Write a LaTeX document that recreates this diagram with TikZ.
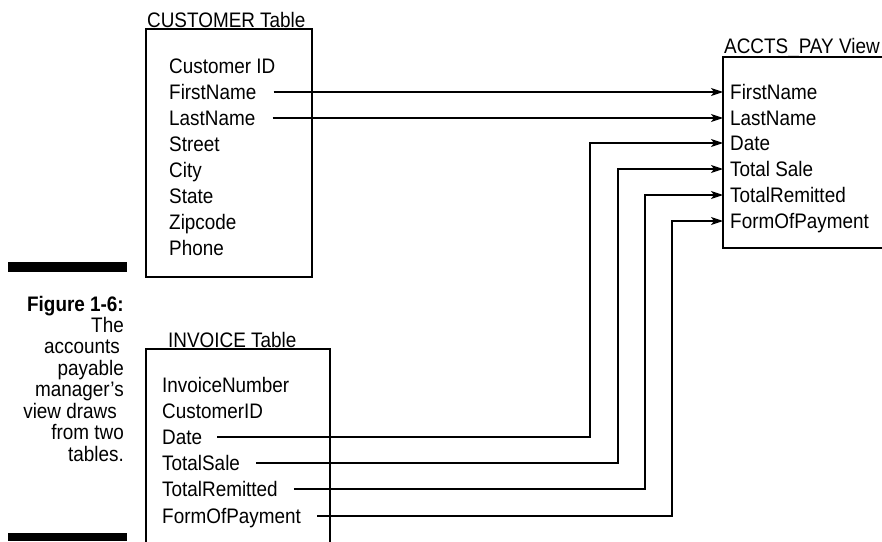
\documentclass[tikz,border=0pt]{standalone}
\usepackage{fontspec}
\setmainfont{Liberation Sans}
\newfontfamily\narrowfont[FakeStretch=0.9]{Liberation Sans}
\usetikzlibrary{arrows.meta}
\begin{document}
\begin{tikzpicture}[x=1pt,y=-1pt,
  every node/.style={font=\narrowfont\fontsize{21}{24}\selectfont},
  item/.style={inner sep=0pt, anchor=west, text height=15pt, text depth=0pt},
  vitem/.style={inner ysep=0pt, inner xsep=7pt, anchor=west, text height=15pt, text depth=0pt},
  ttl/.style={inner sep=0pt, anchor=base west},
  captext/.style={inner sep=0pt, anchor=base east},
  tablebox/.style={draw, line width=1.2pt},
  arr/.style={line width=1.2pt, -{Stealth[length=12pt,width=8pt,inset=3pt]}}
]
\useasboundingbox (0,0) rectangle (882,541);

% caption bars
\fill (8,262) rectangle (127,272);
\fill (8,533) rectangle (127,541);

% caption
\node[captext,font=\narrowfont\fontsize{21}{24}\selectfont\bfseries] (c0) at (124,311) {Figure 1-6:};
\node[captext] (c1) at (124,332) {The};
\node[captext] (c2) at (120,353.5) {accounts};
\node[captext] (c3) at (124,375) {payable};
\node[captext] (c4) at (124,396.5) {manager’s};
\node[captext] (c5) at (117,418) {view draws};
\node[captext] (c6) at (124,439.5) {from two};
\node[captext] (c7) at (124,461) {tables.};

% CUSTOMER table
\node[ttl] (custT) at (147,27) {CUSTOMER Table};
\draw[tablebox] (146,29) rectangle (312,277);
\node[item] (cID) at (169,66) {Customer ID};
\node[item] (cFirst) at (169,92) {FirstName};
\node[item] (cLast) at (169,118) {LastName};
\node[item] (cStreet) at (169,144) {Street};
\node[item] (cCity) at (169,170) {City};
\node[item] (cState) at (169,196) {State};
\node[item] (cZip) at (169,222) {Zipcode};
\node[item] (cPhone) at (169,248) {Phone};

% INVOICE table
\node[ttl] (invT) at (168,347) {INVOICE Table};
\draw[tablebox] (146,560) -- (146,349) -- (330,349) -- (330,560);
\node[item] (iNum) at (162,385) {InvoiceNumber};
\node[item] (iCust) at (162,411) {CustomerID};
\node[item] (iDate) at (162,437) {Date};
\node[item] (iSale) at (162,463) {TotalSale};
\node[item] (iRem) at (162,489) {TotalRemitted};
\node[item] (iForm) at (162,516) {FormOfPayment};

% ACCTS_PAY view
\node[ttl] (viewT) at (724,53) {ACCTS\_PAY View};
\draw[tablebox] (900,57) -- (723,57) -- (723,248) -- (900,248);
\node[vitem] (vFirst) at (723,92) {FirstName};
\node[vitem] (vLast) at (723,118) {LastName};
\node[vitem] (vDate) at (723,143) {Date};
\node[vitem] (vSale) at (723,169) {Total Sale};
\node[vitem] (vRem) at (723,195) {TotalRemitted};
\node[vitem] (vForm) at (723,221) {FormOfPayment};

% corner coordinates
\coordinate (kDate) at (590,143);
\coordinate (kSale) at (618,169);
\coordinate (kRem) at (645,195);
\coordinate (kForm) at (672,221);

% connectors
\draw[arr] ([xshift=17pt]cFirst.east) -- (vFirst.west);
\draw[arr] ([xshift=17pt]cLast.east) -- (vLast.west);
\draw[arr] ([xshift=15pt]iDate.east) -| (kDate) -- (vDate.west);
\draw[arr] ([xshift=16pt]iSale.east) -| (kSale) -- (vSale.west);
\draw[arr] ([xshift=16pt]iRem.east) -| (kRem) -- (vRem.west);
\draw[arr] ([xshift=16pt]iForm.east) -| (kForm) -- (vForm.west);
\end{tikzpicture}
\end{document}
